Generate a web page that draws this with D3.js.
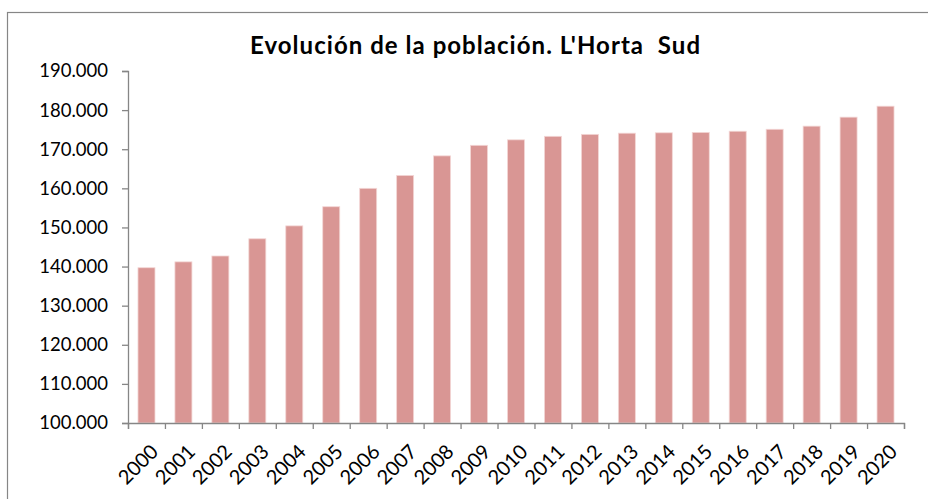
<!DOCTYPE html>
<html>
<head>
<meta charset="utf-8">
<script src="https://cdn.jsdelivr.net/npm/d3@7"></script>
<style>
  html, body { margin: 0; padding: 0; background: #fff; }
  svg { display: block; }
</style>
</head>
<body>
<svg id="chart" width="928" height="499"></svg>
<script>
const title = "Evolución de la población. L'Horta  Sud";
const years = ["2000","2001","2002","2003","2004","2005","2006","2007","2008","2009","2010",
               "2011","2012","2013","2014","2015","2016","2017","2018","2019","2020"];
const population = [139700, 141200, 142700, 147100, 150400, 155300, 160000, 163300, 168300, 171000, 172400,
                    173300, 173800, 174100, 174200, 174300, 174600, 175100, 175900, 178200, 181000];
const yTicks = [100000, 110000, 120000, 130000, 140000, 150000, 160000, 170000, 180000, 190000];

const svg = d3.select("#chart");
const plotLeft = 128, plotRight = 904, plotTop = 71, plotBottom = 423;
const axisColor = "#868686";
const font = "Lato, 'Liberation Sans', sans-serif";

// chart area frame
svg.append("rect")
  .attr("x", 7.5).attr("y", 12.5)
  .attr("width", 1000).attr("height", 1000)
  .attr("fill", "#fff")
  .attr("stroke", axisColor).attr("stroke-width", 1.2);

svg.append("text")
  .attr("x", 475).attr("y", 54)
  .attr("text-anchor", "middle")
  .attr("font-family", font)
  .attr("font-weight", "bold")
  .attr("font-size", 24)
  .attr("textLength", 450)
  .attr("lengthAdjust", "spacing")
  .style("white-space", "pre")
  .attr("fill", "#000")
  .text(title);

const x = d3.scaleBand().domain(years).range([plotLeft, plotRight])
  .paddingInner(0.54).paddingOuter(0.27);
const xb = d3.scaleLinear().domain([0, years.length]).range([plotLeft, plotRight]);
const y = d3.scaleLinear().domain([100000, 190000]).range([plotBottom, plotTop]);

const loc = d3.formatLocale({decimal: ",", thousands: ".", grouping: [3], currency: ["", "€"]});
const fmt = loc.format(",");

// bars
svg.append("g").selectAll("rect").data(years).join("rect")
  .attr("x", d => x(d))
  .attr("y", (d, i) => y(population[i]))
  .attr("width", x.bandwidth())
  .attr("height", (d, i) => y(100000) - y(population[i]))
  .attr("fill", "#d99694")
  .attr("stroke", "#f3d6d5")
  .attr("stroke-width", 0.8);

// y axis
const gy = svg.append("g").attr("transform", `translate(${plotLeft},0)`)
  .call(d3.axisLeft(y).tickValues(yTicks).tickSize(6).tickPadding(14).tickFormat(fmt));
gy.select(".domain").attr("stroke", axisColor).attr("stroke-width", 1.3);
gy.selectAll(".tick line").attr("stroke", axisColor).attr("stroke-width", 1.3);
gy.selectAll(".tick text").attr("font-family", font).attr("font-size", 18.5).attr("fill", "#000");

// x axis (ticks between categories)
const gx = svg.append("g").attr("transform", `translate(0,${plotBottom})`)
  .call(d3.axisBottom(xb).tickValues(d3.range(years.length + 1)).tickSize(6).tickSizeOuter(6).tickFormat(""));
gx.select(".domain").attr("stroke", axisColor).attr("stroke-width", 1.3);
gx.selectAll(".tick line").attr("stroke", axisColor).attr("stroke-width", 1.3);

// rotated year labels
svg.append("g").selectAll("text").data(years).join("text")
  .attr("transform", d => `translate(${x(d) + x.bandwidth() / 2 + 8},${plotBottom + 25}) rotate(-45)`)
  .attr("text-anchor", "end")
  .attr("dy", "0.35em")
  .attr("font-family", font)
  .attr("font-size", 20)
  .attr("fill", "#000")
  .text(d => d);
</script>
</body>
</html>
